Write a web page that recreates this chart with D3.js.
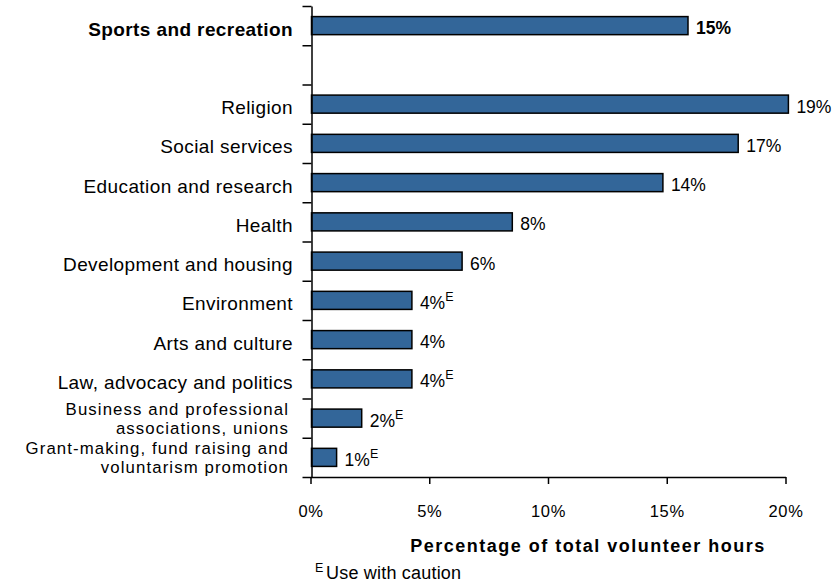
<!DOCTYPE html>
<html>
<head>
<meta charset="utf-8">
<script src="https://cdn.jsdelivr.net/npm/d3@7"></script>
<style>
  body { margin: 0; background: #fff; }
  text { font-family: "Liberation Sans", Arial, Helvetica, sans-serif; fill: #000; }
</style>
</head>
<body>
<div id="chart"></div>
<script>
// categories, top to bottom (empty row = spacer under the highlighted one)
const categories = [
    ["Sports and recreation"],
    [],
    ["Religion"],
    ["Social services"],
    ["Education and research"],
    ["Health"],
    ["Development and housing"],
    ["Environment"],
    ["Arts and culture"],
    ["Law, advocacy and politics"],
    ["Business and professional", "associations, unions"],
    ["Grant-making, fund raising and", "voluntarism promotion"]
];
const values = [15, null, 19, 17, 14, 8, 6, 4, 4, 4, 2, 1];
const useWithCaution = [false, false, false, false, false, false, false, true, false, true, true, true];
const xTicks = [0, 5, 10, 15, 20];

const width = 833, height = 587;

const svg = d3.select("#chart").append("svg")
    .attr("width", width)
    .attr("height", height);

const plotTop = 6, plotBottom = 477;

const y = d3.scaleBand()
    .domain(d3.range(categories.length))
    .range([plotTop, plotBottom])
    .paddingInner(0.54)
    .paddingOuter(0.27);

// boundaries between rows, for the tick marks of the category axis
const yEdges = d3.scaleLinear().domain([0, categories.length]).range([plotTop, plotBottom]);

// axis labels and bars don't share exactly the same spacing in the original
const xAxisScale = d3.scaleLinear().domain([0, 20]).range([310.5, 785.5]);
const xBar = d3.scaleLinear().domain([0, 20]).range([311.5, 813.5]);

const rowMid = i => y(i) + y.bandwidth() / 2;

// bars
svg.append("g")
    .selectAll("rect")
    .data(values.map((v, i) => ({ v, i })).filter(d => d.v != null))
    .join("rect")
    .attr("x", xBar(0))
    .attr("y", d => y(d.i))
    .attr("width", d => xBar(d.v) - xBar(0))
    .attr("height", y.bandwidth())
    .attr("fill", "#336699")
    .attr("stroke", "#000")
    .attr("stroke-width", 1.5);

// y axis
const yAxis = svg.append("g")
    .attr("transform", `translate(${xAxisScale(0) + 1},0)`)
    .call(d3.axisLeft(yEdges).tickValues(d3.range(categories.length + 1)).tickSize(9).tickSizeOuter(0).tickFormat(""));
yAxis.select(".domain").attr("stroke", "#000").attr("stroke-width", 1.5);
yAxis.selectAll(".tick line").attr("stroke", "#000").attr("stroke-width", 1.5);

// x axis
const xAxis = svg.append("g")
    .attr("transform", `translate(0,${plotBottom})`)
    .call(d3.axisBottom(xAxisScale).tickValues(xTicks).tickSize(7).tickSizeOuter(0).tickFormat(d => d + "%"));
xAxis.select(".domain").attr("stroke", "#000").attr("stroke-width", 1.5);
xAxis.selectAll(".tick line").attr("stroke", "#000").attr("stroke-width", 1.5);
xAxis.selectAll(".tick text")
    .attr("y", 40).attr("dy", 0)
    .style("font-size", "16.5px")
    .style("letter-spacing", "0.7px")
    .attr("fill", "#000");

// category labels
const labels = svg.append("g");
categories.forEach((lines, i) => {
    if (!lines.length) return;
    const mid = rowMid(i);
    const bold = i === 0;
    if (lines.length === 1) {
        labels.append("text")
            .attr("text-anchor", "end")
            .attr("x", 293)
            .attr("y", mid + 10)
            .style("font-size", "19px")
            .style("font-weight", bold ? "bold" : "normal")
            .style("letter-spacing", "0.4px")
            .text(lines[0]);
    } else {
        // two-line labels: slightly smaller so the lines don't collide
        lines.forEach((l, k) => {
            labels.append("text")
                .attr("text-anchor", "end")
                .attr("x", 289)
                .attr("y", mid - 3.5 + k * 19.5)
                .style("font-size", "16.8px")
                .style("letter-spacing", "1.1px")
                .text(l);
        });
    }
});

// value labels
const vals = svg.append("g");
values.forEach((v, i) => {
    if (v == null) return;
    const t = vals.append("text")
        .attr("x", xBar(v) + 8)
        .attr("y", rowMid(i) + 8.5)
        .style("font-size", "17.5px")
        .style("font-weight", i === 0 ? "bold" : "normal")
        .text(v + "%");
    if (useWithCaution[i]) {
        t.append("tspan").attr("dy", -8).style("font-size", "12.5px").text("E");
    }
});

// axis title
svg.append("text")
    .attr("x", 588)
    .attr("y", 551.5)
    .attr("text-anchor", "middle")
    .style("font-size", "18px")
    .style("font-weight", "bold")
    .style("letter-spacing", "1.5px")
    .text("Percentage of total volunteer hours");

// footnote
svg.append("text")
    .attr("x", 315)
    .attr("y", 572)
    .style("font-size", "12.5px")
    .text("E");
svg.append("text")
    .attr("x", 326)
    .attr("y", 579)
    .style("font-size", "18px")
    .style("letter-spacing", "0.2px")
    .text("Use with caution");
</script>
</body>
</html>
